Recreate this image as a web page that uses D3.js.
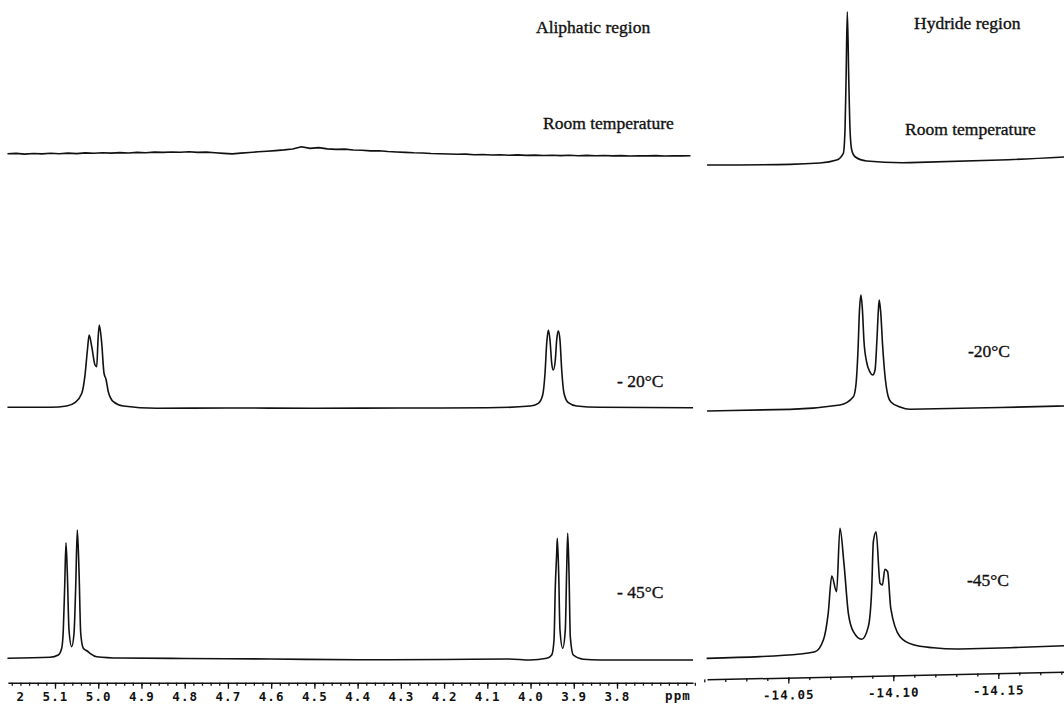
<!DOCTYPE html>
<html>
<head>
<meta charset="utf-8">
<script src="https://cdn.jsdelivr.net/npm/d3@7"></script>
<style>
html, body { margin: 0; padding: 0; background: #fff; }
svg { display: block; }
.lbl { font-family: "Liberation Serif", "Times New Roman", serif; font-size: 17.5px; fill: #111; stroke: #111; stroke-width: 0.35px; }
.tick text, .unit { font-family: "DejaVu Sans Mono", monospace; font-weight: bold; font-size: 12.5px; letter-spacing: 1.1px; fill: #111; }
</style>
</head>
<body>
<script>
// aliphatic region: [ppm, intensity above baseline]
const aliRoom = [
  [5.21,3.2],[5.19,3.6],[5.17,2.9],[5.15,3.5],[5.13,3.1],[5.11,3.8],[5.09,3.3],[5.07,3.9],
  [5.05,3.4],[5.03,4.1],[5.01,3.7],[4.99,4.3],[4.97,3.9],[4.95,4.4],[4.93,4.0],[4.91,4.6],
  [4.89,4.3],[4.87,4.9],[4.85,4.6],[4.83,5.0],[4.81,4.8],[4.79,5.2],[4.77,4.6],[4.75,4.9],
  [4.73,4.2],[4.71,3.6],[4.69,3.1],[4.67,3.9],[4.65,4.5],[4.63,5.2],[4.61,5.8],[4.59,6.4],
  [4.57,7.1],[4.55,8.0],[4.53,10.2],[4.51,8.6],[4.49,9.4],[4.47,8.1],[4.45,7.6],[4.43,7.9],
  [4.41,7.0],[4.39,6.8],[4.37,6.1],[4.35,6.3],[4.33,5.5],[4.31,5.0],[4.29,4.6],[4.27,4.2],
  [4.25,4.0],[4.23,3.5],[4.21,3.3],[4.19,3.0],[4.17,2.7],[4.15,2.9],[4.13,2.3],[4.11,2.5],
  [4.09,2.0],[4.07,2.3],[4.05,1.8],[4.03,2.1],[4.01,1.6],[3.99,1.9],[3.97,1.5],[3.95,1.8],
  [3.93,1.4],[3.91,1.7],[3.89,1.3],[3.87,1.6],[3.85,1.2],[3.83,1.5],[3.81,1.1],[3.79,1.4],
  [3.77,1.0],[3.75,1.3],[3.73,1.1],[3.71,1.4],[3.69,1.0],[3.67,1.3],[3.65,1.1],[3.63,1.2]
]
const ali20 = [
  [5.21,-0.3],[5.11,-0.3],[5.073,1.0],[5.054,4.3],[5.038,13.7],[5.031,30.3],[5.025,57],[5.021,72],
  [5.015,60.3],[5.0075,42],[5.0035,40.3],[5.0005,67],[4.9975,82],[4.992,64],[4.9867,34],[4.982,27.7],
  [4.9767,15.3],[4.965,5.3],[4.942,1],[4.865,-1.3],[4.7,-1],[4.5,-1.2],[4.3,-1],[4.1,-0.8],
  [4.0012,1],[3.982,3.7],[3.9719,12],[3.9665,33.7],[3.9626,63.7],[3.9589,77],[3.955,67],[3.951,43.7],
  [3.9473,37],[3.9427,47],[3.9395,67],[3.9358,76.3],[3.9319,67],[3.9279,37],[3.9226,13.7],[3.9126,4.3],
  [3.8932,1],[3.8393,-0.3],[3.624,-0.8]
]
const ali45 = [
  [5.21,0.7],[5.1116,1.7],[5.0924,4],[5.0845,10.7],[5.0808,29],[5.0776,72.3],[5.0746,116.3],[5.0715,85.7],
  [5.0676,29],[5.0614,12.3],[5.056,25.7],[5.0521,72.3],[5.0484,129],[5.0445,89],[5.0405,25.7],[5.0345,10.7],
  [5.0253,8],[5.019,5.7],[5.0035,2.3],[4.95,1],[4.8,0.5],[4.6,0],[4.4,-0.8],[4.2,-0.5],[4.05,0],
  [4.0012,-1],[3.9626,0.7],[3.951,4],[3.9457,19],[3.9427,72.3],[3.9395,105.7],[3.9381,120.7],[3.9349,85.7],
  [3.9319,29],[3.9256,10.7],[3.9196,29],[3.9164,89],[3.914,125.7],[3.911,85.7],[3.908,22.3],[3.9011,4],
  [3.8779,-0.3],[3.8393,-1],[3.624,-1]
]

// hydride region
const hydRoom = [
  [-14.0113,0.8],[-14.0508,-0.3],[-14.0651,0.4],[-14.073,3],[-14.0762,9.6],[-14.077,32.9],[-14.0775,82.8],
  [-14.0781,151.1],[-14.0788,82.8],[-14.0794,32.8],[-14.0802,12.7],[-14.0818,5.9],[-14.0873,1.4],
  [-14.108,-1.2],[-14.1508,-0.5],[-14.1813,1.2]
]
const hyd20 = [
  [-14.0113,1.8],[-14.0508,1.7],[-14.0746,5],[-14.081,13],[-14.0822,24.6],[-14.0832,59.6],[-14.0839,99.5],
  [-14.0846,114.5],[-14.0853,99.5],[-14.086,69.5],[-14.0873,47.4],[-14.0889,37.3],[-14.0902,34.3],
  [-14.0913,39.2],[-14.0922,69.2],[-14.0929,99.1],[-14.0933,109.1],[-14.094,97.1],[-14.0949,64],
  [-14.096,34],[-14.0975,12.9],[-14.0989,6.9],[-14.1032,1.7],[-14.108,-0.8],[-14.1508,-1],[-14.1813,-0.8]
]
const hyd45 = [
  [-14.0111,0.5],[-14.0365,1.1],[-14.0556,2.8],[-14.0627,4.7],[-14.0667,16.3],[-14.069,42.9],[-14.0707,80.1],
  [-14.073,64.3],[-14.0746,127.7],[-14.0765,92.6],[-14.0786,42.5],[-14.081,24],[-14.085,16.2],[-14.0881,28.7],
  [-14.0897,65.3],[-14.0905,113.6],[-14.0918,123.5],[-14.0937,71.8],[-14.0948,70.1],[-14.096,85.7],
  [-14.0973,83.2],[-14.0988,46.6],[-14.1032,18],[-14.1096,9.6],[-14.1191,6.2],[-14.1318,4.4],
  [-14.1556,4.6],[-14.1813,5.4]
]

// tick labels
const aliTicks = [5.2, 5.1, 5.0, 4.9, 4.8, 4.7, 4.6, 4.5, 4.4, 4.3, 4.2, 4.1, 4.0, 3.9, 3.8]
const aliTickLabels = ['5.2','5.1','5.0','4.9','4.8','4.7','4.6','4.5','4.4','4.3','4.2','4.1','4.0','3.9','3.8']
const hydTicks = [-14.05, -14.10, -14.15]
const hydTickLabels = ['-14.05', '-14.10', '-14.15']

const W = 1064, H = 704

const svg = d3.select('body').append('svg')
  .attr('width', W)
  .attr('height', H)

svg.append('rect').attr('width', W).attr('height', H).attr('fill', '#fff')

// 比例尺 (ppm increases to the left)
const xAli = d3.scaleLinear().domain([5.1, 3.8]).range([55, 617])
const xHyd = d3.scaleLinear().domain([-14.05, -14.15]).range([788.3, 998.3])
const aliSpan = [5.209, 3.624]
const hydSpan = [-14.0113, -14.1813]

function drawTrace(parent, data, x, base, curve = d3.curveMonotoneX) {
  const y = d3.scaleLinear().domain([0, 100]).range([base, base - 100])
  parent.append('path')
    .datum(data)
    .attr('fill', 'none')
    .attr('stroke', '#111')
    .attr('stroke-width', 1.6)
    .attr('stroke-linejoin', 'round')
    .attr('d', d3.line().x(d => x(d[0])).y(d => y(d[1])).curve(curve))
}

function drawAxis(parent, x, span, majors, labels, minorStep, axisY, pad) {
  const ax = x.copy().domain(span).range(span.map(x))
  const minors = d3.range(Math.round(span[0] / minorStep), Math.round(span[1] / minorStep) - 1, -1)
    .map(k => k * minorStep)
  const gMinor = parent.append('g')
    .attr('transform', `translate(0,${axisY})`)
    .call(d3.axisBottom(ax).tickValues(minors).tickSize(3).tickSizeOuter(0).tickFormat(''))
  const gMajor = parent.append('g')
    .attr('transform', `translate(0,${axisY})`)
    .call(d3.axisBottom(ax).tickValues(majors).tickSize(6).tickSizeOuter(0).tickPadding(pad)
      .tickFormat((d, i) => labels[i]))
  gMajor.select('.domain').remove()
  gMinor.select('.domain').attr('stroke', '#111').attr('stroke-width', 1.5)
  parent.selectAll('.tick line').attr('stroke', '#111').attr('stroke-width', 1.3)
  return gMajor
}

// ---- aliphatic panel
const left = svg.append('g').attr('class', 'left')
drawTrace(left, aliRoom, xAli, 157, d3.curveLinear)
drawTrace(left, ali20, xAli, 407)
drawTrace(left, ali45, xAli, 659)

svg.append('clipPath').attr('id', 'aliclip')
  .append('rect').attr('x', 14).attr('y', 0).attr('width', 690).attr('height', H)
const aliAxis = drawAxis(left, xAli, aliSpan, aliTicks, aliTickLabels, 0.02, 682.7, 3)
aliAxis.attr('clip-path', 'url(#aliclip)')
left.append('text').attr('class', 'unit')
  .attr('x', 678).attr('y', 699.5).attr('text-anchor', 'middle').text('ppm')

// ---- hydride panel (scan is tilted slightly)
const tilt = -1.23
const right = svg.append('g')
  .attr('class', 'right')
  .attr('transform', `translate(0,${(885 * Math.tan(-tilt * Math.PI / 180)).toFixed(2)}) skewY(${tilt})`)
drawTrace(right, hydRoom, xHyd, 162)
drawTrace(right, hyd20, xHyd, 409)
drawTrace(right, hyd45, xHyd, 655)
drawAxis(right, xHyd, hydSpan, hydTicks, hydTickLabels, 0.01, 675.5, 7)

// ---- labels
const labels = [
  { t: 'Aliphatic region', x: 536, y: 33 },
  { t: 'Room temperature', x: 543, y: 128.5 },
  { t: '- 20°C', x: 617, y: 387 },
  { t: '- 45°C', x: 617, y: 598 },
  { t: 'Hydride region', x: 914, y: 28.5 },
  { t: 'Room temperature', x: 905, y: 135 },
  { t: '-20°C', x: 968, y: 357 },
  { t: '-45°C', x: 967, y: 586 }
]
svg.selectAll('text.lbl')
  .data(labels)
  .enter()
  .append('text')
  .attr('class', 'lbl')
  .attr('x', d => d.x)
  .attr('y', d => d.y)
  .text(d => d.t)
</script>
</body>
</html>
